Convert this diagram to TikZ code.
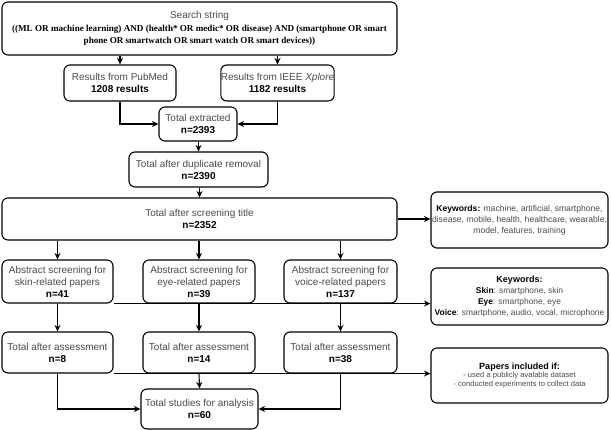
\documentclass[tikz,border=0pt]{standalone}
\usepackage{fontspec}
\setmainfont{Liberation Sans}
\newfontfamily\serifb{Liberation Serif}
\usetikzlibrary{arrows.meta,calc}
\definecolor{txt}{HTML}{4A4A4A}
\begin{document}
\begin{tikzpicture}[x=1pt,y=-1pt,
  box/.style={draw=black, line width=1.1pt, rounded corners=6pt, align=center, text=txt,
    font=\fontsize{10}{12}\selectfont, inner sep=0pt},
  arr/.style={draw=black, line width=1.1pt, -{Stealth[length=6.5pt,width=6pt]}},
  ln/.style={draw=black, line width=1.1pt}]
\useasboundingbox (0,0) rectangle (611,430);
\newcommand{\bk}[1]{\textcolor{black}{\textbf{#1}}}

\node[box, minimum width=395pt, minimum height=53pt] (search) at (199.5,28.5)
  {Search string\\[1pt]
   {\serifb\bfseries\color{black}\fontsize{9.1}{12}\selectfont ((ML OR machine learning) AND (health* OR medic* OR disease) AND (smartphone OR smart}\\
   {\serifb\bfseries\color{black}\fontsize{9.1}{12}\selectfont phone OR smartwatch OR smart watch OR smart devices))}};
\node[box, minimum width=112pt, minimum height=36pt] (pub) at (120,83)
  {Results from PubMed\\\bk{1208 results}};
\node[box, minimum width=111pt, minimum height=36pt] (ieee) at (277.5,83)
  {Results from IEEE \textit{Xplore}\\\bk{1182 results}};
\node[box, minimum width=78pt, minimum height=34pt] (ext) at (198,124)
  {Total extracted\\\bk{n=2393}};
\node[box, minimum width=139pt, minimum height=35pt] (dup) at (198.5,169.5)
  {Total after duplicate removal\\\bk{n=2390}};
\node[box, minimum width=395pt, minimum height=42pt] (title) at (199.5,219)
  {Total after screening title\\\bk{n=2352}};
\node[box, minimum width=177pt, minimum height=56pt, font=\fontsize{8.6}{11}\selectfont] (kw1) at (519.5,220)
  {\bk{Keywords:} machine, artificial, smartphone,\\disease, mobile, health, healthcare, wearable,\\model, features, training};

\node[box, minimum width=111pt, minimum height=43pt] (skinabs) at (57.5,281.5)
  {Abstract screening for\\skin-related papers\\\bk{n=41}};
\node[box, minimum width=112pt, minimum height=43pt] (eyeabs) at (199,281.5)
  {Abstract screening for\\eye-related papers\\\bk{n=39}};
\node[box, minimum width=113pt, minimum height=43pt] (voiceabs) at (340.5,281.5)
  {Abstract screening for\\voice-related papers\\\bk{n=137}};
\node[box, minimum width=177pt, minimum height=57pt, font=\fontsize{8.4}{11}\selectfont] (kw2) at (519.5,296.5)
  {{\fontsize{9}{11}\selectfont\bk{Keywords:}}\\\bk{Skin}: smartphone, skin\\\bk{Eye}: smartphone, eye\\\bk{Voice}: smartphone, audio, vocal, microphone};

\node[box, minimum width=111pt, minimum height=41pt] (skinass) at (57.5,352.5)
  {Total after assessment\\\bk{n=8}};
\node[box, minimum width=112pt, minimum height=41pt] (eyeass) at (199,352.5)
  {Total after assessment\\\bk{n=14}};
\node[box, minimum width=113pt, minimum height=41pt] (voiceass) at (340.5,352.5)
  {Total after assessment\\\bk{n=38}};
\node[box, minimum width=177pt, minimum height=55pt, font=\fontsize{7.6}{8.6}\selectfont] (papers) at (519.5,375.5)
  {{\fontsize{9}{10}\selectfont\bk{Papers included if:}}\\ - used a publicly avalable dataset\\ - conducted experiments to collect data};
\node[box, minimum width=117pt, minimum height=40pt] (studies) at (199.5,409)
  {Total studies for analysis\\\bk{n=60}};

\draw[arr] (search.south -| pub.north) -- (pub.north);
\draw[arr] (search.south -| ieee.north) -- (ieee.north);
\draw[arr] (pub.south) |- (ext.west);
\draw[arr] (ieee.south) |- (ext.east);
\draw[arr] (ext.south -| dup.north) -- (dup.north);
\draw[arr] (dup.south -| title.north) -- (title.north);
\draw[arr] (title.east) -- (title.east -| kw1.west);
\draw[arr] (title.south -| skinabs.north) -- (skinabs.north);
\draw[arr] (title.south -| eyeabs.north) -- (eyeabs.north);
\draw[arr] (title.south -| voiceabs.north) -- (voiceabs.north);
\draw[arr] (skinabs.south east) -- (skinabs.south east -| kw2.west);
\draw[arr] (skinabs.south) -- (skinass.north);
\draw[arr] (eyeabs.south) -- (eyeass.north);
\draw[arr] (voiceabs.south) -- (voiceass.north);
\draw[arr] (skinass.south east) -- (skinass.south east -| papers.west);
\draw[arr] (skinass.south) |- (studies.west);
\draw[arr] (eyeass.south) -- (studies.north);
\draw[arr] (voiceass.south) |- (studies.east);
\end{tikzpicture}
\end{document}
